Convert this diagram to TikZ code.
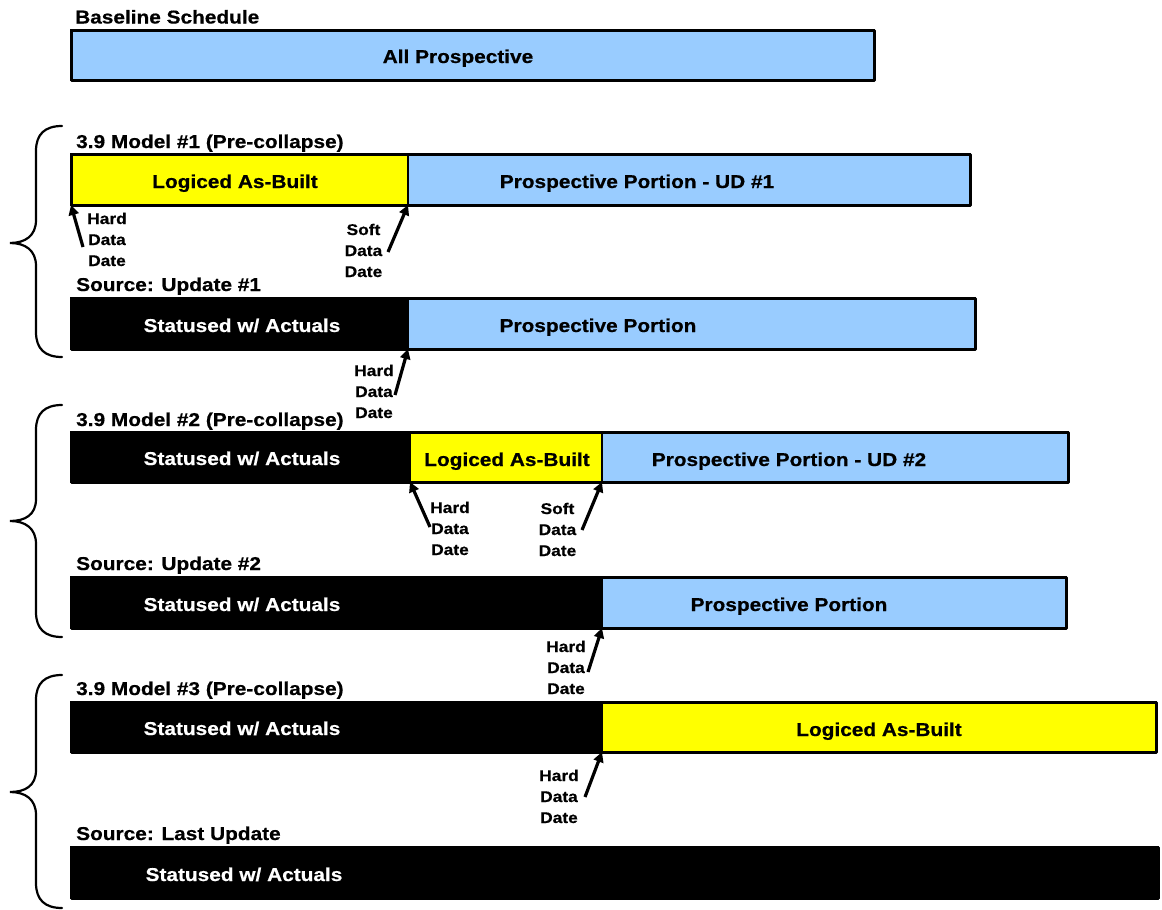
\documentclass[tikz,border=0pt]{standalone}
\usepackage{fontspec}
\setmainfont{Liberation Sans}[FakeStretch=1.12, BoldFeatures={FakeBold=0.6}]
\usetikzlibrary{arrows.meta}
\definecolor{pblue}{HTML}{99CCFF}
\definecolor{pyellow}{HTML}{FFFF00}
\begin{document}
\begin{tikzpicture}[x=1pt,y=-1pt,
  seg/.style={draw=black, line width=1.8pt, rectangle, anchor=north west,
              inner sep=0pt, outer sep=0pt},
  frame/.style={draw=black, line width=3pt, line join=round},
  bartext/.style={font=\fontsize{18.6}{22}\selectfont\bfseries, anchor=base, inner sep=0pt},
  whitetext/.style={bartext, text=white},
  rowtitle/.style={font=\fontsize{18.6}{22}\selectfont\bfseries, anchor=base west, inner sep=0pt},
  datelabel/.style={font=\fontsize{15.5}{21}\selectfont\bfseries, align=center,
                    anchor=base, inner sep=0pt},
  pointer/.style={line width=3.2pt, -{Triangle[length=10pt,width=10pt]}},
  brace/.style={line width=2.2pt, line cap=round}
]
\fill[white] (0,0) rectangle (1162,910);
\useasboundingbox (0,0) rectangle (1162,910);

% ---------- Baseline schedule ----------
\node[rowtitle] (tbase) at (75,23.5) {Baseline Schedule};
\node[seg, fill=pblue, minimum width=803pt, minimum height=50pt] (base) at (71,30) {};
\draw[frame] (base.north west) rectangle (base.south east);
\node[bartext] (base-t) at (458,63) {All Prospective};

% ---------- Model #1 ----------
\node[rowtitle] (tm1) at (76,148) {3.9 Model \#1 (Pre-collapse)};
\node[seg, fill=pyellow, minimum width=337pt, minimum height=51pt] (r1a) at (71,154) {};
\node[seg, fill=pblue, minimum width=562pt, minimum height=51pt] (r1b) at (408,154) {};
\draw[frame] (r1a.north west) rectangle (r1b.south east);
\node[bartext] (r1a-t) at (235,188) {Logiced As-Built};
\node[bartext] (r1b-t) at (637,188) {Prospective Portion - UD \#1};

% multi-line labels are placed by the baseline of their last line
\node[datelabel] (l1) at (107,266) {Hard\\Data\\Date};
\node[datelabel] (l2) at (363.5,277) {Soft\\Data\\Date};
\coordinate (a1) at (83,247);
\coordinate (a2) at (388,252);
\draw[pointer] (a1) -- (r1a.south west);
\draw[pointer] (a2) -- (r1a.south east);

% ---------- Update #1 ----------
\node[rowtitle] (tu1) at (76,291) {Source: Update \#1};
\node[seg, fill=black, minimum width=337pt, minimum height=51pt] (u1a) at (71,298) {};
\node[seg, fill=pblue, minimum width=567pt, minimum height=51pt] (u1b) at (408,298) {};
\draw[frame] (u1a.north west) rectangle (u1b.south east);
\node[whitetext] (u1a-t) at (242,332) {Statused w/ Actuals};
\node[bartext] (u1b-t) at (598,332) {Prospective Portion};

\node[datelabel] (l3) at (374,418) {Hard\\Data\\Date};
\coordinate (a3) at (395,395);
\draw[pointer] (a3) -- (u1a.south east);

% ---------- Model #2 ----------
\node[rowtitle] (tm2) at (76,426) {3.9 Model \#2 (Pre-collapse)};
\node[seg, fill=black, minimum width=339pt, minimum height=50pt] (r2a) at (71,432) {};
\node[seg, fill=pyellow, minimum width=192pt, minimum height=50pt] (r2b) at (410,432) {};
\node[seg, fill=pblue, minimum width=466pt, minimum height=50pt] (r2c) at (602,432) {};
\draw[frame] (r2a.north west) rectangle (r2c.south east);
\node[whitetext] (r2a-t) at (242,465) {Statused w/ Actuals};
\node[bartext] (r2b-t) at (507,466) {Logiced As-Built};
\node[bartext] (r2c-t) at (789,466) {Prospective Portion - UD \#2};

\node[datelabel] (l4) at (450,555) {Hard\\Data\\Date};
\node[datelabel] (l5) at (557.5,556) {Soft\\Data\\Date};
\coordinate (a4) at (430,527);
\coordinate (a5) at (582,530);
\draw[pointer] (a4) -- (r2b.south west);
\draw[pointer] (a5) -- (r2b.south east);

% ---------- Update #2 ----------
\node[rowtitle] (tu2) at (76,570) {Source: Update \#2};
\node[seg, fill=black, minimum width=531pt, minimum height=51pt] (u2a) at (71,577) {};
\node[seg, fill=pblue, minimum width=464pt, minimum height=51pt] (u2b) at (602,577) {};
\draw[frame] (u2a.north west) rectangle (u2b.south east);
\node[whitetext] (u2a-t) at (242,611) {Statused w/ Actuals};
\node[bartext] (u2b-t) at (789,611) {Prospective Portion};

\node[datelabel] (l6) at (566,694) {Hard\\Data\\Date};
\coordinate (a6) at (588,672);
\draw[pointer] (a6) -- (u2a.south east);

% ---------- Model #3 ----------
\node[rowtitle] (tm3) at (76,695) {3.9 Model \#3 (Pre-collapse)};
\node[seg, fill=black, minimum width=531pt, minimum height=50pt] (r3a) at (71,702) {};
\node[seg, fill=pyellow, minimum width=554pt, minimum height=50pt] (r3b) at (602,702) {};
\draw[frame] (r3a.north west) rectangle (r3b.south east);
\node[whitetext] (r3a-t) at (242,735) {Statused w/ Actuals};
\node[bartext] (r3b-t) at (879,736) {Logiced As-Built};

\node[datelabel] (l7) at (559,823) {Hard\\Data\\Date};
\coordinate (a7) at (585,797);
\draw[pointer] (a7) -- (r3a.south east);

% ---------- Last update ----------
\node[rowtitle] (tu3) at (76,840) {Source: Last Update};
\node[seg, fill=black, minimum width=1087pt, minimum height=51pt] (u3a) at (71,847) {};
\draw[frame] (u3a.north west) rectangle (u3a.south east);
\node[whitetext] (u3a-t) at (244,881) {Statused w/ Actuals};

% ---------- Braces grouping each model with its source ----------
\draw[brace] (62,126) .. controls (45,126) and (36,134) .. (36,151)
  -- (36,220) .. controls (36,236) and (25,243) .. (10,243)
  .. controls (25,243) and (36,250) .. (36,266)
  -- (36,332) .. controls (36,349) and (45,357) .. (62,357);
\draw[brace] (62,405) .. controls (45,405) and (36,413) .. (36,430)
  -- (36,499) .. controls (36,515) and (25,521) .. (10,521)
  .. controls (25,521) and (36,528) .. (36,544)
  -- (36,612) .. controls (36,629) and (45,637) .. (62,637);
\draw[brace] (62,675) .. controls (45,675) and (36,683) .. (36,700)
  -- (36,770) .. controls (36,786) and (25,792) .. (10,792)
  .. controls (25,792) and (36,799) .. (36,815)
  -- (36,883) .. controls (36,900) and (45,908) .. (62,908);
\end{tikzpicture}
\end{document}
